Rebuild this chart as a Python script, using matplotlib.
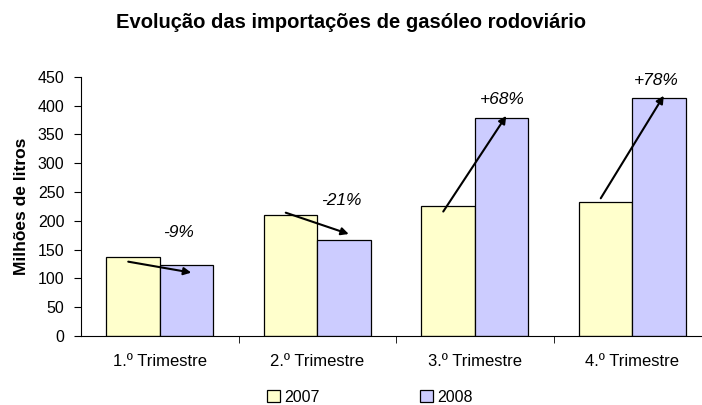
import numpy as np
import matplotlib.pyplot as plt

plt.rcParams['font.family'] = ['Liberation Sans', 'DejaVu Sans']

# data (millions of litres)
quarters = ['1.º Trimestre', '2.º Trimestre', '3.º Trimestre', '4.º Trimestre']
v2007 = [137, 210, 225, 233]
v2008 = [123, 166, 378, 413]
changes = ['-9%', '-21%', '+68%', '+78%']

# arrow ends (y in data units) and label heights
arrow_y0 = [129, 214, 216, 239]
arrow_y1 = [110, 177, 382, 417]
label_y = [179, 236, 411, 444]
label_dx = [0.12, 0.155, 0.175, 0.15]

fig = plt.figure(figsize=(7.02, 4.05), dpi=100)
ax = fig.add_axes([81 / 702, 1 - 336 / 405, 1 - 81 / 702, 259.3 / 405])

x = np.arange(len(quarters))
w = 0.34
ax.bar(x - w / 2, v2007, w, color='#FFFFCC', edgecolor='black', linewidth=0.9, label='2007')
ax.bar(x + w / 2, v2008, w, color='#CCCCFF', edgecolor='black', linewidth=0.9, label='2008')

for i in range(len(quarters)):
    ax.annotate('', xy=(i + 0.2, arrow_y1[i]), xytext=(i - 0.2, arrow_y0[i]),
                arrowprops=dict(arrowstyle='-|>', color='black', lw=1.5,
                                mutation_scale=11, shrinkA=0, shrinkB=0))
    ax.text(i + label_dx[i], label_y[i], changes[i], ha='center', va='center',
            fontsize=12.5, style='italic')

ax.set_ylim(0, 450)
ax.set_yticks(range(0, 451, 50))
ax.set_xlim(-0.5, 3.5 - 9 / 157.5)
ax.set_xticks(x)
ax.set_xticklabels(quarters)
ax.set_xticks(np.arange(0.5, 3.5, 1), minor=True)
ax.tick_params(axis='x', which='major', length=0, pad=13, labelsize=12)
ax.tick_params(axis='x', which='minor', length=5, direction='out')
ax.tick_params(axis='y', length=5, labelsize=11.5, pad=7)
ax.spines['top'].set_visible(False)
ax.spines['right'].set_visible(False)
ax.set_ylabel('Milhões de litros', fontsize=12.5, fontweight='bold', labelpad=6)

fig.suptitle('Evolução das importações de gasóleo rodoviário', y=1 - 23 / 405,
             va='center', fontsize=14.5, fontweight='bold', x=351 / 702)

fig.legend(loc='center left', bbox_to_anchor=(253 / 702, 1 - 397 / 405), ncol=2,
           frameon=False, fontsize=11.5, handlelength=0.8, handleheight=0.8,
           columnspacing=6.3, handletextpad=0.25)

fig.savefig('out.png', dpi=100)
